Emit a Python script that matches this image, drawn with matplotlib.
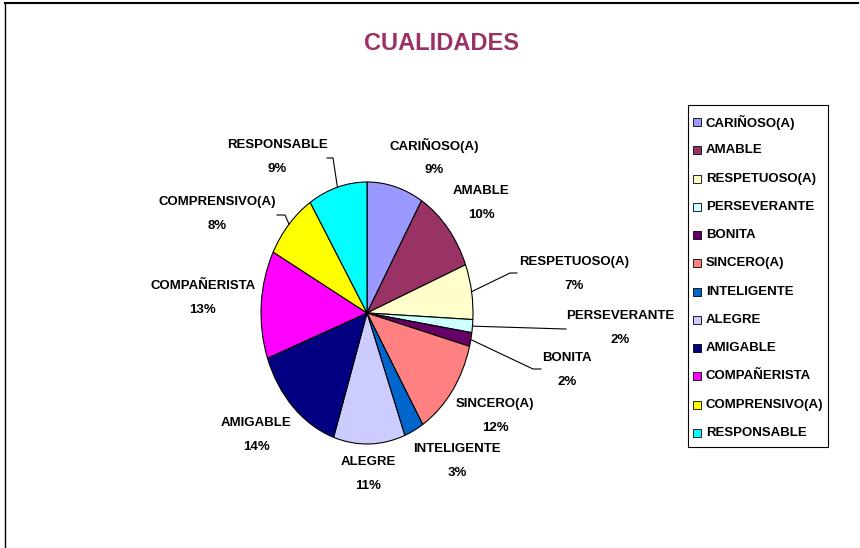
import numpy as np
import matplotlib
matplotlib.use("Agg")
import matplotlib.pyplot as plt
from matplotlib import font_manager
from matplotlib.lines import Line2D
from matplotlib.patches import Rectangle

# data (share of answers, %)
categories = ["CARIÑOSO(A)", "AMABLE", "RESPETUOSO(A)", "PERSEVERANTE", "BONITA",
              "SINCERO(A)", "INTELIGENTE", "ALEGRE", "AMIGABLE", "COMPAÑERISTA",
              "COMPRENSIVO(A)", "RESPONSABLE"]
values = [8.6, 10.4, 6.8, 1.6, 1.7, 12.1, 3.0, 10.9, 14.3, 13.3, 8.3, 9.0]
colors = ["#9999FF", "#993366", "#FFFFCC", "#CCFFFF", "#660066", "#FF8080",
          "#0066CC", "#CCCCFF", "#000080", "#FF00FF", "#FFFF00", "#00FFFF"]

# label centres in pixels (layout only)
label_px = [(434, 157), (481, 203), (574, 274), (620, 328), (567, 370),
            (495, 416), (457, 461), (368, 474), (256, 435), (203, 298),
            (217, 214), (277, 157)]
# leader lines: index -> (elbow, end) in pixels
leaders = {2: [(510, 273), (517, 273)],
           3: [(565, 329), (566, 329)],
           4: [(533, 369), (541, 369)],
           10: [(285, 215), (277, 215)],
           11: [(333, 158), (327, 158)]}

names = {f.name for f in font_manager.fontManager.ttflist}
fam = ["Liberation Sans Narrow", "Liberation Sans", "DejaVu Sans"]
fam = [f for f in fam if f in names]
narrow = fam[0] == "Liberation Sans Narrow"
plt.rcParams["font.family"] = fam
fs = 10.5 if narrow else 9.5
fs_title = 20 if narrow else 17

W, H = 860, 548
fig = plt.figure(figsize=(W / 100, H / 100), dpi=100)


def fx(x, y):
    return x / W, 1 - y / H


# pie is an ellipse: centre (367, 313), rx 106, ry 131 px
cx, cy, rx, ry = 367, 313, 106, 131
ax = fig.add_axes([(cx - rx) / W, (H - cy - ry) / H, 2 * rx / W, 2 * ry / H])
wedges, _ = ax.pie(values, colors=colors, startangle=90, counterclock=False,
                   wedgeprops=dict(edgecolor="black", linewidth=0.8))
ax.set_xlim(-1, 1)
ax.set_ylim(-1, 1)
ax.set_aspect("auto")
ax.axis("off")

total = sum(values)
pct = [100 * v / total for v in values]
to_fig = ax.transData + fig.transFigure.inverted()

for i, (name, p) in enumerate(zip(categories, pct)):
    x, y = fx(*label_px[i])
    fig.text(x, y, f"{name}\n{p:.0f}%", ha="center", va="center",
             multialignment="center", fontsize=fs, fontweight="bold",
             linespacing=2.25)
    if i in leaders:
        w = wedges[i]
        mid = np.deg2rad((w.theta1 + w.theta2) / 2)
        start = to_fig.transform((np.cos(mid), np.sin(mid)))
        pts = [start] + [fx(*q) for q in leaders[i]]
        xs, ys = zip(*pts)
        fig.add_artist(Line2D(xs, ys, color="black", linewidth=0.8))

fig.text(*fx(441, 44), "CUALIDADES", ha="center", va="center",
         fontsize=fs_title, fontweight="bold", color="#993366")

# legend drawn by hand to match the box
lx0, ly0, lx1, ly1 = 688, 105, 828, 447
fig.add_artist(Rectangle(fx(lx0, ly1), (lx1 - lx0) / W, (ly1 - ly0) / H,
                         transform=fig.transFigure, facecolor="white",
                         edgecolor="black", linewidth=0.8))
step = (433 - 122) / (len(categories) - 1)
for i, (name, c) in enumerate(zip(categories, colors)):
    yy = 122 + i * step
    fig.add_artist(Rectangle(fx(693, yy + 4), 8 / W, 8 / H,
                             transform=fig.transFigure, facecolor=c,
                             edgecolor="black", linewidth=0.6))
    fig.text(*fx(706, yy), name, ha="left", va="center", fontsize=fs,
             fontweight="bold")

# chart area border (top and left edges visible)
fig.add_artist(Line2D([5 / W, 858 / W], [1 - 3 / H, 1 - 3 / H], color="black",
                      linewidth=1.5))
fig.add_artist(Line2D([5 / W, 5 / W], [1 - 3 / H, 0], color="black",
                      linewidth=1.0))

fig.savefig("out.png", dpi=100)
